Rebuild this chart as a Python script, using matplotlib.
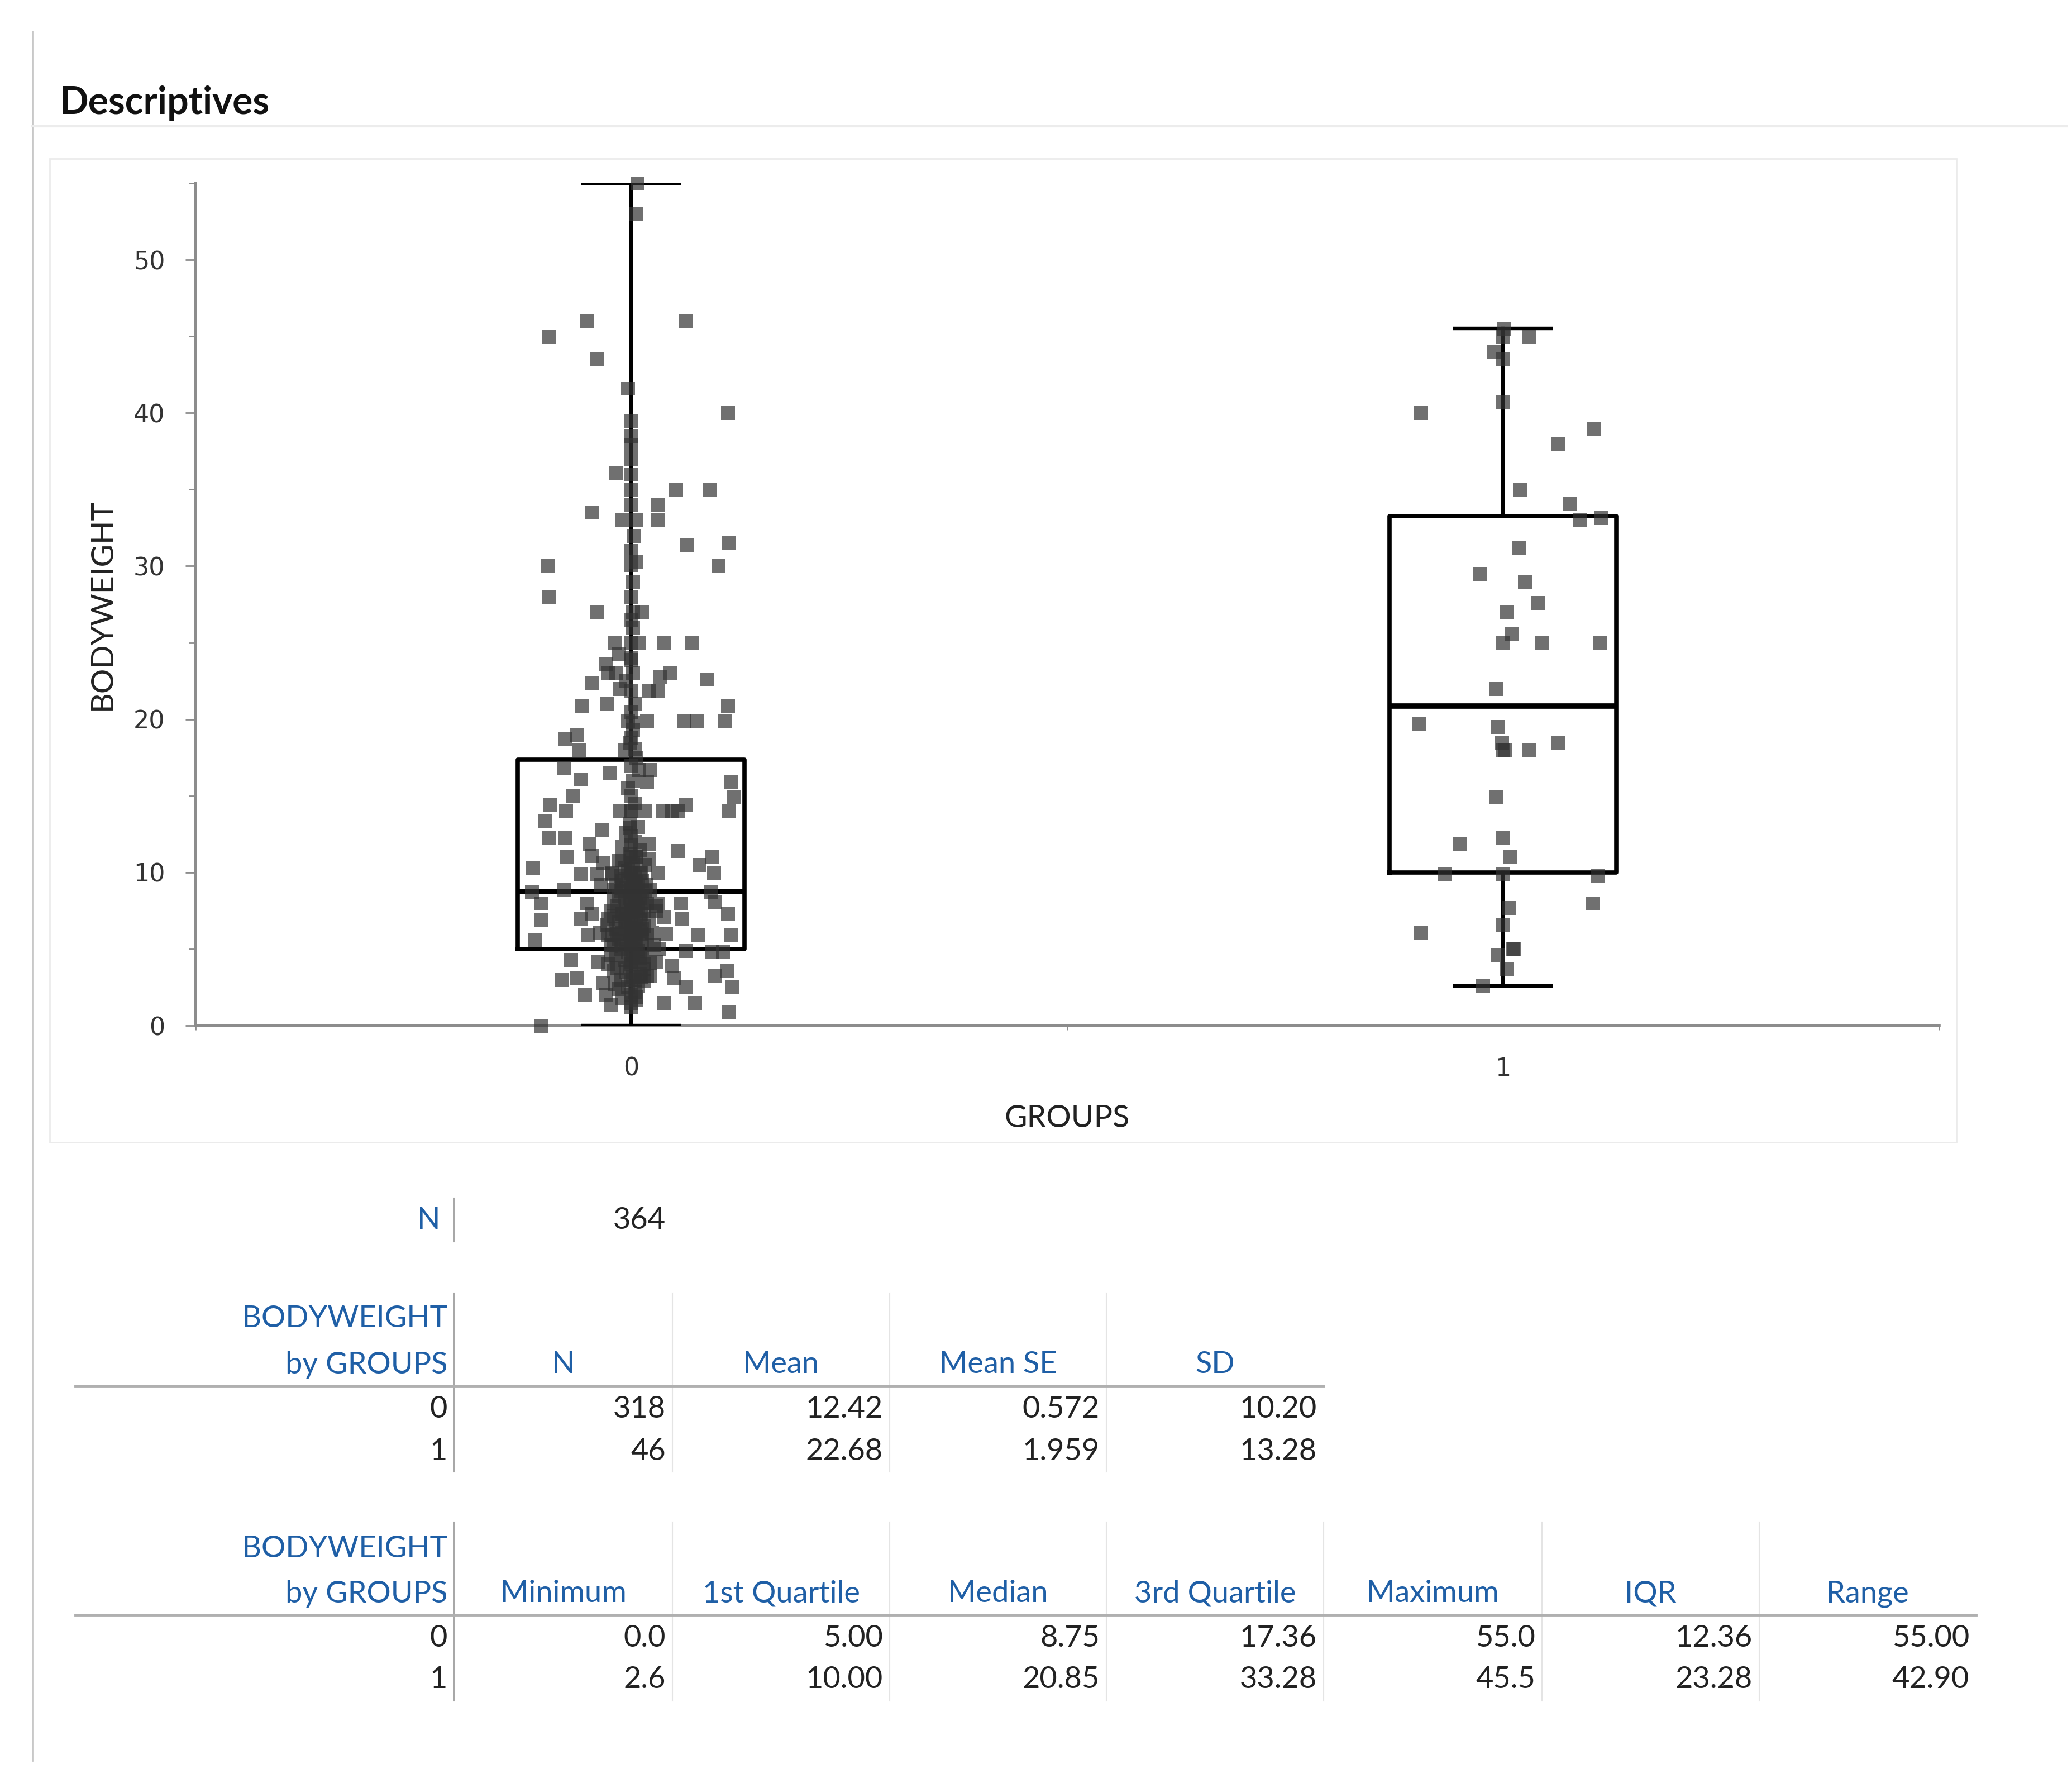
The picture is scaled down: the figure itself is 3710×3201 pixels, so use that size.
import matplotlib
matplotlib.use("Agg")
import matplotlib.pyplot as plt
from matplotlib.lines import Line2D
from matplotlib.patches import Rectangle


# -----------------------------
# Data
# -----------------------------
groups = ["0", "1"]
n_total = 364
n_obs = [318, 46]
mean = [12.42, 22.68]
mean_se = [0.572, 1.959]
sd = [10.20, 13.28]
minimum = [0.0, 2.6]
q1 = [5.00, 10.00]
median = [8.75, 20.85]
q3 = [17.36, 33.28]
maximum = [55.0, 45.5]
iqr = [12.36, 23.28]
value_range = [55.00, 42.90]

# group 0: horizontal jitter (in category units) and BODYWEIGHT
group0_offset = [
    0.007, 0.006, -0.051, 0.063, -0.094, -0.040, -0.004, 0.111, 0.0, 0.0,
    -0.018, 0.0, 0.051, 0.090, 0.030, -0.045, -0.010, 0.006, 0.031, 0.003,
    0.064, 0.112, -0.096, 0.0, 0.006, 0.100,
    -0.095, -0.039, 0.002, 0.012, 0.002, -0.019, 0.0, 0.009, 0.037, 0.070,
    -0.015, 0.0, -0.029, -0.027, -0.018, 0.045, 0.033, 0.087, -0.045, -0.013,
    0.0, 0.020, 0.030, -0.057, -0.028, 0.111, -0.004, 0.002, 0.018, 0.060,
    0.075, 0.107, 0.002, -0.062, -0.076, 0.0, -0.060, -0.007, 0.004,
    -0.077, -0.025, 0.009, 0.022, -0.058, 0.018, 0.114, -0.067, 0.0, 0.118,
    -0.093, -0.075, -0.013, 0.0, 0.016, 0.036, 0.046, 0.054, 0.063, 0.112,
    -0.099, -0.002, -0.033, -0.095, -0.076, -0.048, 0.020, 0.0, 0.053, -0.045,
    -0.074, 0.093, 0.0, 0.006, -0.011, -0.032, 0.078, -0.113, 0.095, -0.058,
    -0.040, -0.022, 0.0, 0.011, 0.030, -0.011, 0.002, -0.035, 0.017, -0.114,
    -0.077, 0.091, -0.020, 0.0, -0.103, -0.051, -0.020, 0.0, 0.015, 0.030,
    0.057, 0.096,
    -0.104, -0.058, -0.045, -0.026, -0.011, 0.0, 0.011, 0.028, 0.037, 0.058,
    0.111, -0.050, -0.036, -0.022, 0.0, 0.0, 0.011, 0.040, 0.076, 0.114,
    -0.111, -0.023, 0.0, 0.032, 0.063, 0.092, 0.105, -0.069, -0.038, -0.026,
    0.0, 0.015, 0.028, 0.046, 0.110, 0.096, -0.080, -0.062, -0.032, -0.019,
    0.0, 0.011, 0.022, 0.049, 0.063, 0.116, -0.053, -0.029, 0.0, 0.006,
    0.037, 0.073, -0.023, 0.0, 0.112, -0.104,
    -0.010, 0.004, -0.004, 0.008, -0.012, 0.002, 0.010, -0.006, 0.014, -0.016,
    0.000, 0.006, -0.008, 0.012, -0.018, 0.002, -0.004, 0.008, -0.012, 0.016,
    0.000, -0.020, 0.006, -0.006, 0.012, -0.014, 0.002, 0.018, -0.002, -0.010,
    0.008, -0.018, 0.004, 0.014, -0.006, 0.000, -0.014, 0.010, 0.020, -0.004,
    0.006, -0.020, -0.010, 0.002, 0.014, -0.006, 0.008, -0.016, 0.000, 0.018,
    -0.008, 0.004, -0.002, 0.012, -0.014, 0.006, -0.004, 0.016, 0.000, -0.010,
    0.008, -0.018, 0.002, 0.012, -0.006, 0.004, -0.012, 0.010, 0.000, -0.008,
    0.016, 0.002, -0.014, 0.006, -0.002, 0.010, -0.010, 0.004, 0.000, -0.006,
    0.008, -0.002, 0.004, -0.002, 0.010, -0.010, 0.004, -0.016, 0.012, -0.008,
    0.002, 0.010, -0.012, 0.006, -0.004, 0.014, -0.014, 0.000, 0.006, 0.022,
    -0.024, 0.024, -0.024, 0.022, -0.022, 0.020, 0.026, -0.026, 0.018, -0.020,
    0.028, -0.028, 0.000, 0.004, -0.004, 0.002, 0.000, 0.006, -0.002, 0.000,
    0.004, -0.006, 0.002, 0.000, 0.000, 0.002, 0.000, 0.000, 0.000, 0.000,
    0.000, 0.000,
]
group0_value = [
    55.0, 53.0, 46.0, 46.0, 45.0, 43.5, 41.6, 40.0, 37.9, 37.0,
    36.1, 35.0, 35.0, 35.0, 34.0, 33.5, 33.0, 33.0, 33.0, 32.0,
    31.4, 31.5, 30.0, 30.1, 30.3, 30.0,
    28.0, 27.0, 27.0, 27.0, 26.0, 25.0, 25.0, 25.0, 25.0, 25.0,
    24.3, 23.9, 23.6, 23.0, 23.0, 23.0, 22.8, 22.6, 22.4, 22.0,
    21.9, 21.9, 21.9, 20.9, 21.0, 20.9, 19.9, 19.8, 19.9, 19.9,
    19.9, 19.9, 19.3, 19.0, 18.7, 18.8, 18.0, 18.0, 18.1,
    16.8, 16.5, 16.7, 16.7, 16.1, 15.9, 15.9, 15.0, 15.0, 14.9,
    14.4, 14.0, 14.0, 14.0, 14.0, 14.0, 14.0, 14.0, 14.4, 14.0,
    13.4, 12.9, 12.8, 12.3, 12.3, 11.9, 11.9, 11.8, 11.4, 11.1,
    11.0, 11.0, 11.0, 11.0, 10.8, 10.6, 10.5, 10.3, 10.0, 9.9,
    9.9, 10.0, 10.0, 10.0, 10.0, 9.5, 9.4, 9.2, 9.2, 8.7,
    8.9, 8.7, 8.9, 8.9, 8.0, 8.0, 8.0, 8.0, 8.0, 8.0,
    8.0, 8.1,
    6.9, 7.0, 7.3, 7.0, 7.3, 7.5, 7.3, 7.5, 7.1, 7.0,
    7.3, 5.9, 6.1, 5.9, 6.4, 5.8, 6.0, 6.0, 5.9, 5.9,
    5.6, 5.3, 5.3, 5.0, 4.9, 4.8, 4.8, 4.3, 4.2, 4.0,
    4.2, 4.0, 4.2, 3.9, 3.6, 3.3, 3.0, 3.1, 2.8, 2.7,
    3.0, 3.2, 3.3, 3.1, 2.5, 2.5, 2.0, 2.0, 2.0, 1.7,
    1.5, 1.5, 1.4, 1.2, 0.9, 0.0,
    1.8, 2.2, 2.5, 2.6, 3.0, 3.2, 3.4, 3.5, 3.7, 3.8,
    4.0, 4.2, 4.3, 4.5, 4.5, 4.6, 4.8, 4.9, 5.0, 5.0,
    5.1, 5.3, 5.4, 5.5, 5.6, 5.7, 5.8, 5.9, 6.0, 6.1,
    6.2, 6.3, 6.4, 6.5, 6.6, 6.7, 6.8, 6.9, 7.0, 7.0,
    7.1, 7.2, 7.3, 7.4, 7.5, 7.6, 7.7, 7.8, 7.9, 8.0,
    8.1, 8.2, 8.3, 8.4, 8.5, 8.6, 8.7, 8.8, 8.9, 9.0,
    9.1, 9.2, 9.3, 9.5, 9.6, 9.7, 9.8, 10.0, 10.2, 10.3,
    10.5, 10.6, 10.8, 11.0, 11.2, 11.5, 11.7, 12.0, 12.4, 12.6,
    13.0, 13.2, 3.0, 3.9, 4.4, 5.2, 5.7, 6.0, 6.3, 6.9,
    7.6, 8.3, 8.8, 9.4, 10.1, 2.9, 2.4, 1.5, 1.9, 4.1,
    4.6, 6.1, 7.5, 8.9, 9.9, 10.9, 5.3, 5.9, 3.3, 3.6,
    7.8, 6.6, 14.0, 14.5, 15.5, 16.0, 17.0, 17.5, 18.5, 20.5,
    21.0, 22.5, 23.0, 24.0, 28.0, 29.0, 31.0, 34.0, 36.0, 38.5,
    39.5, 26.5,
]

# group 1
group1_offset = [
    0.001, 0.0, 0.030, -0.010, 0.0, 0.0, -0.095, 0.104, 0.063, 0.019,
    0.077, 0.088, 0.113, 0.018, -0.027, 0.025, 0.040, 0.004, 0.010, 0.0,
    0.045, 0.111, -0.008, -0.096, -0.006, -0.001, 0.0, 0.030, 0.063, -0.008,
    -0.050, 0.0, 0.008, -0.067, 0.0, 0.108, 0.103, 0.007, 0.0, -0.094,
    0.011, -0.006, 0.004, -0.023, 0.002, 0.013,
]
group1_value = [
    45.5, 45.0, 45.0, 44.0, 43.5, 40.7, 40.0, 39.0, 38.0, 35.0,
    34.1, 33.0, 33.2, 31.2, 29.5, 29.0, 27.6, 27.0, 25.6, 25.0,
    25.0, 25.0, 22.0, 19.7, 19.5, 18.5, 18.0, 18.0, 18.5, 14.9,
    11.9, 12.3, 11.0, 9.9, 9.9, 9.8, 8.0, 7.7, 6.6, 6.1,
    5.0, 4.6, 3.7, 2.6, 18.0, 5.0,
]


# -----------------------------
# Figure canvas (pixel helpers)
# -----------------------------
W, H = 3710, 3201
fig = plt.figure(figsize=(W / 100, H / 100), dpi=100)
fig.patch.set_facecolor("white")


def fx(px):
    return px / W


def fy(py):
    return 1 - py / H


def fig_line(x0, y0, x1, y1, color, lw):
    fig.add_artist(Line2D([fx(x0), fx(x1)], [fy(y0), fy(y1)],
                          transform=fig.transFigure, color=color, lw=lw))


# page decoration
fig_line(58, 56, 58, 3152, "#c8c8c8", 2)
fig_line(58, 226, 3700, 226, "#ececec", 3)
fig.text(fx(107), fy(204), "Descriptives", fontsize=49, fontweight="bold",
         family="Lato", color="#111111", ha="left", va="baseline")
fig.add_artist(Rectangle((fx(89), fy(2045)), fx(3503) - fx(89), fy(284) - fy(2045),
                         transform=fig.transFigure, fill=False,
                         edgecolor="#ebebeb", lw=2))


# -----------------------------
# Box plot with jittered points
# -----------------------------
ax = fig.add_axes([fx(349.5), fy(1836), (3471.5 - 349.5) / W, (1836 - 328) / H])

stats = []
for i in range(len(groups)):
    stats.append({"med": median[i], "q1": q1[i], "q3": q3[i],
                  "whislo": minimum[i], "whishi": maximum[i], "fliers": []})

ax.bxp(stats, positions=[0, 1], widths=0.26, capwidths=0.11,
       showfliers=False, zorder=3,
       boxprops=dict(color="black", lw=5.5),
       whiskerprops=dict(color="black", lw=4.6),
       capprops=dict(color="black", lw=4.6),
       medianprops=dict(color="black", lw=7))

x0 = [0 + o for o in group0_offset]
x1 = [1 + o for o in group1_offset]
ax.scatter(x0, group0_value, s=18 ** 2, marker="s", color="#333333",
           alpha=0.7, linewidths=0, zorder=4, clip_on=False)
ax.scatter(x1, group1_value, s=18 ** 2, marker="s", color="#333333",
           alpha=0.7, linewidths=0, zorder=4, clip_on=False)

ax.set_xlim(-0.5, 1.5)
ax.set_ylim(0, 55)
for side in ["top", "right"]:
    ax.spines[side].set_visible(False)
for side in ["left", "bottom"]:
    ax.spines[side].set_color("#8c8c8c")
    ax.spines[side].set_linewidth(4)

ax.set_yticks([0, 10, 20, 30, 40, 50])
ax.set_yticks([5, 15, 25, 35, 45, 55], minor=True)
ax.tick_params(axis="y", which="major", direction="out", length=12.7, width=2,
               color="#8c8c8c", pad=26, labelsize=32, labelcolor="#333333")
ax.tick_params(axis="y", which="minor", direction="out", length=9, width=2,
               color="#8c8c8c")

ax.set_xticks([0, 1], groups)
ax.set_xticks([-0.5, 0.5, 1.5], minor=True)
ax.tick_params(axis="x", which="major", length=0, pad=40, labelsize=32,
               labelcolor="#333333")
ax.tick_params(axis="x", which="minor", direction="out", length=6, width=2,
               color="#8c8c8c")

ax.text(-0.0533, 0.5, "BODYWEIGHT", transform=ax.transAxes, rotation=90,
        ha="center", va="center", fontsize=40, family="Lato", color="#222222")
ax.text(0.5, -0.1107, "GROUPS", transform=ax.transAxes,
        ha="center", va="center", fontsize=40, family="Lato", color="#222222")


# -----------------------------
# Tables under the chart
# -----------------------------
head_color = "#1f5fa6"
cell_color = "#222222"
label_right = 801
cols = [813, 1204, 1593, 1981, 2370, 2761, 3150, 3538]
fsize = 39


def head(x, y, s, ha):
    fig.text(fx(x), fy(y), s, ha=ha, va="center", fontsize=fsize,
             family="Lato", color=head_color)


def cell(x, y, s):
    fig.text(fx(x), fy(y), s, ha="right", va="center", fontsize=fsize,
             family="Lato", color=cell_color)


# total N
head(789, 2185, "N", "right")
fig_line(813, 2145, 813, 2223, "#a8a8a8", 1.5)
cell(1192, 2185, str(n_total))


def draw_table(top, headers, columns, y_h1, y_h2, y_line, y_rows, bottom):
    ncol = len(columns)
    head(label_right, y_h1, "BODYWEIGHT", "right")
    head(label_right, y_h2, "by GROUPS", "right")
    fig_line(813, top, 813, bottom, "#a8a8a8", 1.5)
    for j in range(ncol):
        left, right = cols[j], cols[j + 1]
        if j > 0:
            fig_line(left, top, left, bottom, "#e4e4e4", 1.5)
        head((left + right) / 2, y_h2, headers[j], "center")
        for i, y in enumerate(y_rows):
            cell(right - 12, y, columns[j][i])
    fig_line(135, y_line, cols[ncol], y_line, "#b0b0b0", 3.5)
    for i, y in enumerate(y_rows):
        cell(label_right, y, groups[i])


table1_headers = ["N", "Mean", "Mean SE", "SD"]
table1_columns = [
    [str(v) for v in n_obs],
    [f"{v:.2f}" for v in mean],
    [f"{v:.3f}" for v in mean_se],
    [f"{v:.2f}" for v in sd],
]
draw_table(2315, table1_headers, table1_columns, 2361, 2443, 2481,
           [2522, 2598], 2635)

table2_headers = ["Minimum", "1st Quartile", "Median", "3rd Quartile",
                  "Maximum", "IQR", "Range"]
table2_columns = [
    [f"{v:.1f}" for v in minimum],
    [f"{v:.2f}" for v in q1],
    [f"{v:.2f}" for v in median],
    [f"{v:.2f}" for v in q3],
    [f"{v:.1f}" for v in maximum],
    [f"{v:.2f}" for v in iqr],
    [f"{v:.2f}" for v in value_range],
]
draw_table(2725, table2_headers, table2_columns, 2773, 2853, 2891,
           [2932, 3007], 3045)

plt.savefig("out.png", dpi=100)
